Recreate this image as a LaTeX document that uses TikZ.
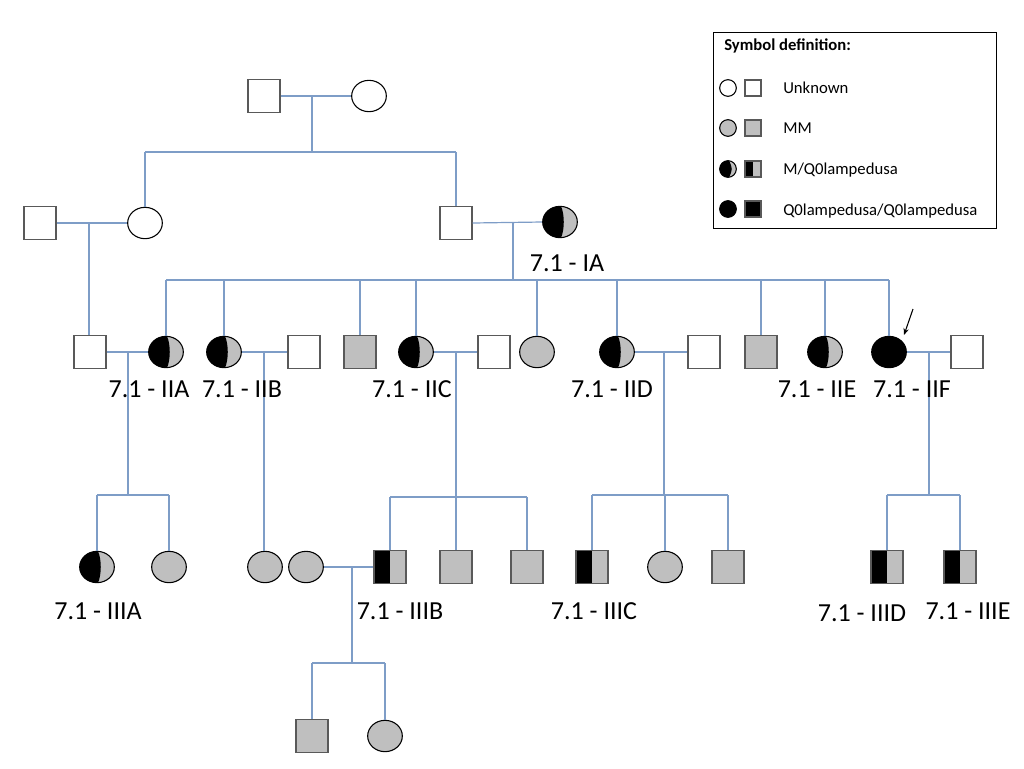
\documentclass[tikz,border=0pt]{standalone}
\usepackage{fontspec}
\setmainfont{Carlito}
\usetikzlibrary{shapes.geometric,arrows.meta,calc}
\definecolor{linkblue}{RGB}{126,157,199}
\definecolor{mmgray}{RGB}{191,191,191}
\definecolor{sqedge}{RGB}{89,89,89}
\tikzset{
  sq/.style={rectangle, draw=sqedge, line width=1.1pt, minimum width=24pt, minimum height=24.5pt, inner sep=0pt, fill=white},
  ci/.style={ellipse, draw=black, line width=0.8pt, minimum width=26pt, minimum height=23.5pt, inner sep=0pt, fill=white},
  mm/.style={fill=mmgray},
  blk/.style={fill=black},
  halfci/.style={fill=mmgray, path picture={
      \fill[black] (path picture bounding box.north west) -- ($(path picture bounding box.north)+(0.8pt,0)$)
        .. controls ($(path picture bounding box.north)+(3.5pt,-6pt)$) and ($(path picture bounding box.south)+(3.5pt,6pt)$)
        .. ($(path picture bounding box.south)+(0.8pt,0)$) -- (path picture bounding box.south west) -- cycle;}},
  halfsq/.style={fill=mmgray, path picture={
      \fill[black] (path picture bounding box.north west) rectangle (path picture bounding box.south);}},
  link/.style={draw=linkblue, line width=0.9pt},
  lab/.style={font=\fontsize{19.5}{22}\selectfont, inner sep=0pt},
  legtxt/.style={font=\fontsize{12.5}{15}\selectfont, anchor=west, inner sep=0pt},
  lsq/.style={sq, minimum width=12pt, minimum height=12pt, line width=0.9pt},
  lci/.style={ci, minimum width=12.5pt, minimum height=12.5pt},
}
\begin{document}
\begin{tikzpicture}[x=0.75pt,y=-0.75pt]
\useasboundingbox (0,0) rectangle (1024,768);

% ---------- Generation I ----------
\node[sq] (I1) at (264,96) {};
\node[ci] (I2) at (369,96) {};
\coordinate (m0) at (312,96);
\coordinate (b0) at (312,152);

% ---------- Generation II (upper) ----------
\node[sq] (Pa) at (40,223) {};
\node[ci] (Pb) at (145,223) {};
\node[sq] (Pc) at (456,223) {};
\node[ci,halfci] (IA) at (560,222) {};
\coordinate (m1) at (89,223);
\coordinate (m2) at (513,223);
\coordinate (b1) at (513,280);

% ---------- Generation II ----------
\node[sq] (s1) at (90,352) {};
\node[ci,halfci] (IIA) at (166,352) {};
\node[ci,halfci] (IIB) at (224,352) {};
\node[sq] (s2) at (304,352) {};
\node[sq,mm] (g1) at (360,352) {};
\node[ci,halfci] (IIC) at (416,352) {};
\node[sq] (s3) at (494,352) {};
\node[ci,mm] (g2) at (537,352) {};
\node[ci,halfci] (IID) at (617,352) {};
\node[sq] (s4) at (704,352) {};
\node[sq,mm] (g3) at (761,352) {};
\node[ci,halfci] (IIE) at (825,352) {};
\node[ci,blk] (IIF) at (889,352) {};
\node[sq] (s5) at (967,352) {};
\coordinate (m3) at (128,352);
\coordinate (b3) at (128,495);
\coordinate (m4) at (264,352);
\coordinate (m5) at (456,352);
\coordinate (b5) at (456,497);
\coordinate (m6) at (664,352);
\coordinate (b6) at (664,495);
\coordinate (m7) at (929,352);
\coordinate (b7) at (929,495);

% ---------- Generation III ----------
\node[ci,halfci] (IIIA) at (97,567) {};
\node[ci,mm] (t1) at (169,567) {};
\node[ci,mm] (t2) at (265,567) {};
\node[ci,mm] (t3) at (306,567) {};
\node[sq,halfsq] (IIIB) at (390,567) {};
\node[sq,mm] (t4) at (456,567) {};
\node[sq,mm] (t5) at (527,567) {};
\node[sq,halfsq] (IIIC) at (592,567) {};
\node[ci,mm] (t6) at (665,567) {};
\node[sq,mm] (t7) at (728,567) {};
\node[sq,halfsq] (IIID) at (887,567) {};
\node[sq,halfsq] (IIIE) at (960,567) {};
\coordinate (m8) at (352,567);
\coordinate (b8) at (352,663);

% ---------- Generation IV ----------
\node[sq,mm] (u1) at (312,736) {};
\node[ci,mm] (u2) at (385,736) {};

% ---------- connectors ----------
% marriages
\draw[link] (I1.east) -- (I2.west);
\draw[link] (Pa.east) -- (Pb.west);
\draw[link] (Pc.east) -- (IA.west);
\draw[link] (s1.east) -- (IIA.west);
\draw[link] (IIB.east) -- (s2.west);
\draw[link] (IIC.east) -- (s3.west);
\draw[link] (IID.east) -- (s4.west);
\draw[link] (IIF.east) -- (s5.west);
\draw[link] (t3.east) -- (IIIB.west);
% descents
\draw[link] (m0) -- (b0);
\draw[link] (m2) -- (b1);
\draw[link] (m3) -- (b3);
\draw[link] (m5) -- (b5);
\draw[link] (m6) -- (b6);
\draw[link] (m7) -- (b7);
\draw[link] (m8) -- (b8);
\draw[link] (m1) -- (m1 |- s1.north);
\draw[link] (m4) -- (m4 |- t2.north);
% sibling bars
\draw[link] (Pb.north |- b0) -- (Pc.north |- b0);
\draw[link] (IIA.north |- b1) -- (IIF.north |- b1);
\draw[link] (IIIA.north |- b3) -- (t1.north |- b3);
\draw[link] (IIIB.north |- b5) -- (t5.north |- b5);
\draw[link] (IIIC.north |- b6) -- (t7.north |- b6);
\draw[link] (IIID.north |- b7) -- (IIIE.north |- b7);
\draw[link] (u1.north |- b8) -- (u2.north |- b8);
% child drops
\foreach \c in {Pb,Pc} \draw[link] (\c.north) -- (\c.north |- b0);
\foreach \c in {IIA,IIB,g1,IIC,g2,IID,g3,IIE,IIF} \draw[link] (\c.north) -- (\c.north |- b1);
\foreach \c in {IIIA,t1} \draw[link] (\c.north) -- (\c.north |- b3);
\foreach \c in {IIIB,t4,t5} \draw[link] (\c.north) -- (\c.north |- b5);
\foreach \c in {IIIC,t6,t7} \draw[link] (\c.north) -- (\c.north |- b6);
\foreach \c in {IIID,IIIE} \draw[link] (\c.north) -- (\c.north |- b7);
\foreach \c in {u1,u2} \draw[link] (\c.north) -- (\c.north |- b8);

% proband arrow
\coordinate (arrS) at (913,309);
\coordinate (arrE) at (904,335);
\draw[-{Stealth[length=5pt,width=4pt]}, line width=0.8pt] (arrS) -- (arrE);

% ---------- labels ----------
\node[lab] (lIA) at (567,263) {7.1 - IA};
\node[lab] (lIIA) at (149,389) {7.1 - IIA};
\node[lab] (lIIB) at (242,389) {7.1 - IIB};
\node[lab] (lIIC) at (412,389) {7.1 - IIC};
\node[lab] (lIID) at (612,389) {7.1 - IID};
\node[lab] (lIIE) at (817,389) {7.1 - IIE};
\node[lab] (lIIF) at (912,389) {7.1 - IIF};
\node[lab] (lIIIA) at (98,611) {7.1 - IIIA};
\node[lab] (lIIIB) at (400,611) {7.1 - IIIB};
\node[lab] (lIIIC) at (594,611) {7.1 - IIIC};
\node[lab] (lIIID) at (862,613) {7.1 - IIID};
\node[lab] (lIIIE) at (968,611) {7.1 - IIIE};

% ---------- legend ----------
\node[draw=black, line width=0.6pt, minimum width=212.25pt, minimum height=147pt, inner sep=0pt] (legend) at (854.5,130) {};
\node[legtxt, font=\fontsize{12.5}{15}\selectfont\bfseries] (ltitle) at (724,46) {Symbol definition:};
\node[lci] (lc1) at (728,88) {};
\node[lsq] (ls1) at (753,88) {};
\node[legtxt] (lt1) at (783,88) {Unknown};
\node[lci,mm] (lc2) at (728,128) {};
\node[lsq,mm] (ls2) at (753,128) {};
\node[legtxt] (lt2) at (783,128) {MM};
\node[lci,halfci] (lc3) at (728,169) {};
\node[lsq,halfsq] (ls3) at (753,169) {};
\node[legtxt] (lt3) at (783,170) {M/Q0lampedusa};
\node[lci,blk] (lc4) at (728,209) {};
\node[lsq,blk] (ls4) at (753,209) {};
\node[legtxt] (lt4) at (783,211) {Q0lampedusa/Q0lampedusa};
\end{tikzpicture}
\end{document}
